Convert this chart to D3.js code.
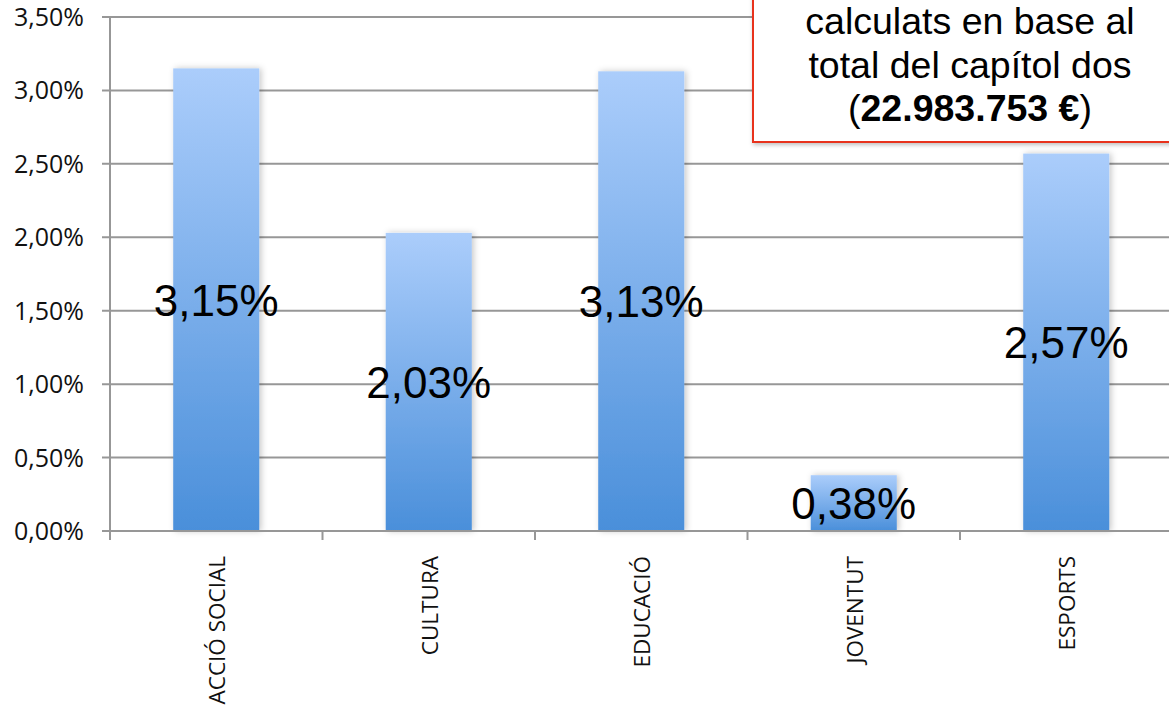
<!DOCTYPE html>
<html>
<head>
<meta charset="utf-8">
<script src="https://cdn.jsdelivr.net/npm/d3@7/dist/d3.min.js"></script>
<style>
  html, body { margin: 0; padding: 0; background: #fff; }
  svg { display: block; }
</style>
</head>
<body>
<svg id="chart" width="1169" height="714"></svg>
<script>
const categories = ["ACCIÓ SOCIAL", "CULTURA", "EDUCACIÓ", "JOVENTUT", "ESPORTS"];
const values = [0.0315, 0.0203, 0.0313, 0.0038, 0.0257];
const valueLabels = ["3,15%", "2,03%", "3,13%", "0,38%", "2,57%"];
const yTicks = [0, 0.005, 0.01, 0.015, 0.02, 0.025, 0.03, 0.035];
const noteLines = ["calculats en base al", "total del capítol dos"];
const noteAmount = "22.983.753 €";

(function () {
const svg = d3.select("#chart");
const W = 1169;
const pLeft = 110, pRight = 1172.5, pTop = 17, pBottom = 531;

const x = d3.scaleBand().domain(categories).range([pLeft, pRight]).padding(0);
const y = d3.scaleLinear().domain([0, 0.035]).range([pBottom, pTop]);
const barW = x.bandwidth() * 0.405;
const fmt = v => d3.format(".2f")(v * 100).replace(".", ",") + "%";

const defs = svg.append("defs");
const grad = defs.append("linearGradient").attr("id", "barGrad")
  .attr("x1", 0).attr("y1", 0).attr("x2", 0).attr("y2", 1);
grad.append("stop").attr("offset", "0%").attr("stop-color", "#abcdfb");
grad.append("stop").attr("offset", "100%").attr("stop-color", "#4a8fda");
const sh = defs.append("filter").attr("id", "shadow")
  .attr("x", "-20%").attr("y", "-10%").attr("width", "140%").attr("height", "120%");
sh.append("feDropShadow").attr("dx", 2).attr("dy", 0).attr("stdDeviation", 3)
  .attr("flood-color", "#000").attr("flood-opacity", 0.22);
const sh2 = defs.append("filter").attr("id", "boxShadow")
  .attr("x", "-10%").attr("y", "-10%").attr("width", "120%").attr("height", "130%");
sh2.append("feDropShadow").attr("dx", 1).attr("dy", 2).attr("stdDeviation", 2)
  .attr("flood-color", "#000").attr("flood-opacity", 0.25);

// gridlines
svg.append("g").selectAll("line").data(yTicks).join("line")
  .attr("x1", pLeft - 8).attr("x2", W)
  .attr("y1", d => y(d)).attr("y2", d => y(d))
  .attr("stroke", "#979797").attr("stroke-width", 2);

// y axis labels
svg.append("g").selectAll("text").data(yTicks).join("text")
  .attr("x", 84).attr("y", d => y(d))
  .attr("dy", "0.36em")
  .attr("text-anchor", "end")
  .attr("font-family", "'Open Sans', sans-serif")
  .attr("font-size", 25)
  .attr("fill", "#111")
  .text(fmt);

// y axis line
svg.append("line").attr("x1", pLeft).attr("x2", pLeft)
  .attr("y1", pTop).attr("y2", pBottom + 9)
  .attr("stroke", "#979797").attr("stroke-width", 2);

// x ticks at band boundaries
const boundaries = categories.map(c => x(c)).slice(1);
svg.append("g").selectAll("line").data(boundaries).join("line")
  .attr("x1", d => d).attr("x2", d => d)
  .attr("y1", pBottom).attr("y2", pBottom + 9)
  .attr("stroke", "#979797").attr("stroke-width", 2);

// bars
svg.append("g").selectAll("rect").data(values).join("rect")
  .attr("x", (d, i) => x(categories[i]) + x.bandwidth() / 2 - barW / 2)
  .attr("y", d => y(d))
  .attr("width", barW)
  .attr("height", d => y(0) - y(d))
  .attr("fill", "url(#barGrad)")
  .attr("filter", "url(#shadow)");

// baseline over bars
svg.append("line").attr("x1", pLeft - 8).attr("x2", W)
  .attr("y1", y(0)).attr("y2", y(0))
  .attr("stroke", "#979797").attr("stroke-width", 2);

// value labels
svg.append("g").selectAll("text").data(values).join("text")
  .attr("x", (d, i) => x(categories[i]) + x.bandwidth() / 2)
  .attr("y", d => (y(d) + y(0)) / 2)
  .attr("dy", "0.36em")
  .attr("text-anchor", "middle")
  .attr("font-family", "'Liberation Sans', Arial, sans-serif")
  .attr("font-size", 44)
  .attr("fill", "#000")
  .text((d, i) => valueLabels[i]);

// category labels
svg.append("g").selectAll("text").data(categories).join("text")
  .attr("transform", d => `translate(${x(d) + x.bandwidth() / 2 + 1},556) rotate(-90)`)
  .attr("text-anchor", "end")
  .attr("dy", "0.35em")
  .attr("font-family", "'Open Sans', sans-serif")
  .attr("font-size", 22.5)
  .attr("fill", "#111")
  .text(d => d);

// annotation box
svg.append("rect")
  .attr("x", 753).attr("y", -20).attr("width", 440).attr("height", 162)
  .attr("fill", "#fff").attr("stroke", "#e8321e").attr("stroke-width", 2)
  .attr("filter", "url(#boxShadow)");
const noteG = svg.append("g")
  .attr("font-family", "'Liberation Sans', Arial, sans-serif")
  .attr("font-size", 37.5).attr("fill", "#000").attr("text-anchor", "middle");
noteLines.forEach((t, i) => {
  noteG.append("text").attr("x", 970).attr("y", 34 + i * 44).text(t);
});
const t3 = noteG.append("text").attr("x", 970).attr("y", 121);
t3.append("tspan").text("(");
t3.append("tspan").attr("font-weight", "bold").text(noteAmount);
t3.append("tspan").text(")");
})();
</script>
</body>
</html>
